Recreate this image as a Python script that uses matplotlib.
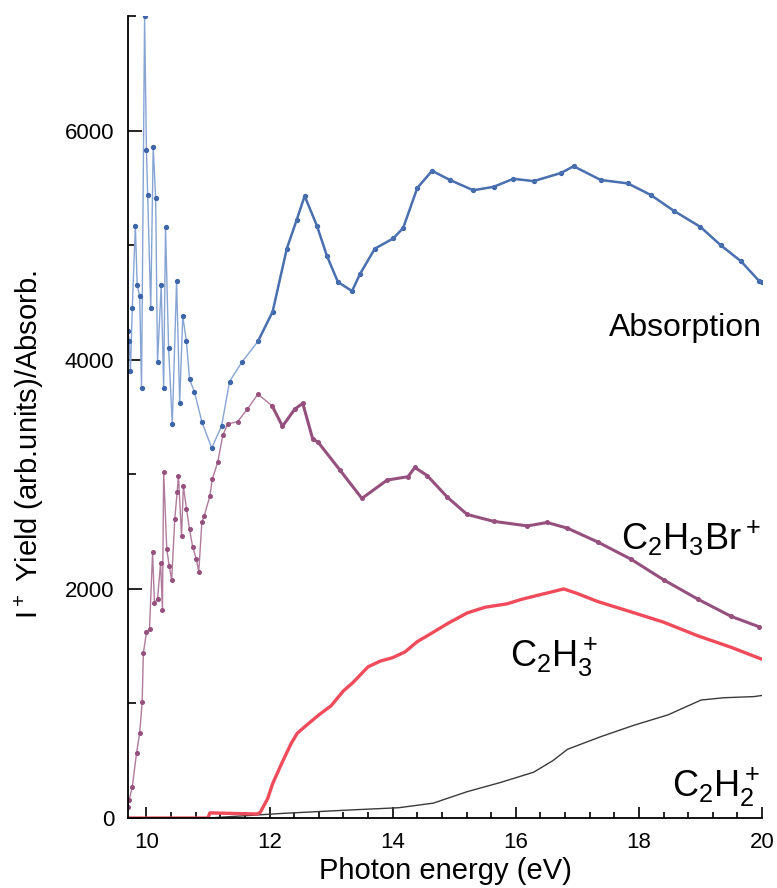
import matplotlib
matplotlib.use("Agg")
import matplotlib.pyplot as plt
from matplotlib import font_manager
from matplotlib.ticker import MultipleLocator

# photon energy (eV) / signal
abs_x = [9.70, 9.72, 9.74, 9.77, 9.82, 9.85, 9.89, 9.92, 9.97, 10.00, 10.02, 10.07,
         10.11, 10.15, 10.18, 10.24, 10.28, 10.31, 10.36, 10.42, 10.49, 10.54, 10.59,
         10.65, 10.70, 10.78, 10.90, 11.06, 11.22, 11.35, 11.55, 11.81, 12.05, 12.28,
         12.44, 12.57, 12.77, 12.93, 13.11, 13.34, 13.47, 13.71, 14.01, 14.17, 14.40,
         14.64, 14.93, 15.31, 15.64, 15.96, 16.29, 16.73, 16.94, 17.38, 17.82, 18.19,
         18.57, 19.00, 19.33, 19.66, 19.95, 20.00]
abs_y = [4250, 4160, 3900, 4450, 5170, 4650, 4560, 3750, 7000, 5830, 5440, 4450,
         5860, 5410, 3980, 4650, 3750, 5160, 4100, 3440, 4690, 3620, 4380,
         4160, 3830, 3720, 3460, 3230, 3420, 3810, 3980, 4160, 4420, 4970,
         5220, 5430, 5170, 4910, 4680, 4600, 4750, 4970, 5060, 5150, 5500,
         5650, 5570, 5480, 5510, 5580, 5560, 5630, 5690, 5570, 5540, 5440,
         5300, 5160, 5000, 4860, 4690, 4680]

br_x = [9.70, 9.72, 9.77, 9.84, 9.89, 9.93, 9.95, 10.00, 10.05, 10.10, 10.13, 10.18,
        10.23, 10.26, 10.28, 10.33, 10.37, 10.41, 10.46, 10.50, 10.52, 10.57, 10.60,
        10.65, 10.70, 10.75, 10.81, 10.85, 10.90, 10.94, 11.03, 11.07, 11.16, 11.24,
        11.32, 11.48, 11.64, 11.81, 12.04, 12.21, 12.41, 12.54, 12.70, 12.79, 13.14,
        13.50, 13.91, 14.25, 14.36, 14.56, 14.89, 15.21, 15.64, 16.19, 16.51, 16.84,
        17.33, 17.87, 18.40, 18.96, 19.50, 19.95]
br_y = [100, 160, 270, 570, 740, 1010, 1440, 1620, 1650, 2320, 1880, 1910,
        2230, 1820, 3020, 2350, 2200, 2080, 2610, 2850, 2990, 2460, 2900,
        2700, 2520, 2370, 2260, 2150, 2580, 2640, 2810, 2960, 3110, 3340,
        3440, 3460, 3570, 3700, 3600, 3420, 3570, 3620, 3310, 3280, 3040,
        2790, 2950, 2980, 3060, 2990, 2800, 2650, 2590, 2550, 2580, 2530,
        2410, 2260, 2080, 1910, 1760, 1670]

c2h3_x = [9.70, 11.00, 11.03, 11.40, 11.80, 11.85, 11.97, 12.05, 12.20, 12.35, 12.45,
          12.60, 12.80, 13.00, 13.20, 13.35, 13.60, 13.80, 14.00, 14.20, 14.40, 14.56,
          14.90, 15.21, 15.50, 15.86, 16.10, 16.40, 16.78, 17.00, 17.33, 17.87, 18.40,
          18.96, 19.50, 19.98]
c2h3_y = [0, 0, 45, 40, 35, 50, 170, 300, 480, 650, 740,
          810, 900, 980, 1110, 1180, 1320, 1370, 1400, 1450, 1540, 1590,
          1700, 1790, 1840, 1870, 1910, 1950, 2000, 1960, 1890, 1800, 1710,
          1590, 1490, 1390]

c2h2_x = [11.00, 12.20, 13.30, 14.10, 14.66, 15.21, 15.75, 16.29, 16.60, 16.84, 17.38,
          17.92, 18.47, 19.01, 19.38, 19.87, 20.00]
c2h2_y = [0, 40, 70, 90, 130, 230, 310, 400, 500, 600, 710,
          810, 900, 1030, 1050, 1060, 1070]


def has_font(name):
    try:
        font_manager.findfont(name, fallback_to_default=False)
        return True
    except Exception:
        return False


main_font = "Liberation Sans"
narrow_font = "Liberation Sans Narrow" if has_font("Liberation Sans Narrow") else main_font
ion_size = 29 if narrow_font != main_font else 26
plt.rcParams["font.family"] = [main_font, "DejaVu Sans"]

fig = plt.figure(figsize=(7.77, 8.88), dpi=100)
ax = fig.add_axes([0.1647, 0.0788, 0.816, 0.903])

ax.plot(c2h2_x, c2h2_y, color="#3a3a3a", lw=1.0)
ax.plot(c2h3_x, c2h3_y, color="#ef4b5b", lw=2.4)
ax.plot(br_x, br_y, color="#b07a9c", lw=1.0, marker="o", ms=2.6,
        mfc="#96507e", mec="#96507e")
ax.plot(br_x[38:], br_y[38:], color="#96507e", lw=2.2)
ax.plot(abs_x, abs_y, color="#86a4d4", lw=1.0, marker="o", ms=2.8,
        mfc="#3d66aa", mec="#3d66aa")
ax.plot(abs_x[31:], abs_y[31:], color="#4a70b0", lw=1.8)

ax.set_xlim(9.7, 20)
ax.set_ylim(0, 7000)
ax.xaxis.set_major_locator(MultipleLocator(2))
ax.xaxis.set_minor_locator(MultipleLocator(0.4))
ax.yaxis.set_major_locator(MultipleLocator(2000))
ax.yaxis.set_minor_locator(MultipleLocator(1000))
ax.tick_params(which="both", direction="in", width=1.2, labelsize=16, pad=10)
ax.tick_params(axis="y", which="major", length=10)
ax.tick_params(axis="y", which="minor", length=6)
ax.tick_params(axis="x", which="major", length=8)
ax.tick_params(axis="x", which="minor", length=4)
for side in ["top", "right"]:
    ax.spines[side].set_visible(False)
for side in ["left", "bottom"]:
    ax.spines[side].set_linewidth(1.3)

ax.set_xlabel("Photon energy (eV)", fontsize=21, labelpad=3)
ax.set_ylabel(r"$\mathregular{I^+}$ Yield (arb.units)/Absorb.", fontsize=21)
ax.yaxis.set_label_coords(-0.129, 0.466)

ax.text(20.0, 4210, "Absorption", fontsize=23, ha="right", va="baseline")
ax.text(19.98, 2346, r"$\mathregular{C_2H_3Br^+}$", fontsize=ion_size, ha="right",
        va="baseline", family=narrow_font)
ax.text(15.91, 1322, r"$\mathregular{C_2H_3^+}$", fontsize=ion_size, ha="left",
        va="baseline", family=narrow_font)
ax.text(19.98, 184, r"$\mathregular{C_2H_2^+}$", fontsize=ion_size, ha="right",
        va="baseline", family=narrow_font)

fig.savefig("out.png", dpi=100)
